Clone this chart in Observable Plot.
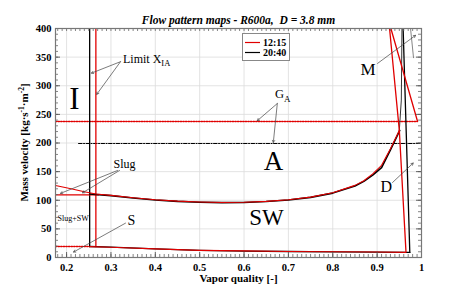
<!DOCTYPE html>
<html><head><meta charset="utf-8">
<script src="https://cdn.jsdelivr.net/npm/d3@7"></script>
<script src="https://cdn.jsdelivr.net/npm/@observablehq/plot@0.6"></script>
<style>
body{margin:0;background:#fff;}
#wrap{position:relative;width:460px;height:302px;}
</style></head><body><div id="wrap"></div>
<script>
const FONT = '"Liberation Serif","DejaVu Serif","Times New Roman",serif';
const series = ["12:15", "20:40"];
const seriesColors = ["#e00000", "#000000"];
const xTicks = [0.2, 0.3, 0.4, 0.5, 0.6, 0.7, 0.8, 0.9, 1];
const yTicks = [0, 50, 100, 150, 200, 250, 300, 350, 400];
const xDomain = [0.175, 1];
const yDomain = [0, 400];
const xMinor = d3.range(18, 101).map(d => d / 100);
const yMinor = d3.range(0, 401, 10);

// Slug / SW-A transition curve
const boundX_1215 = [0.175, 0.21, 0.24, 0.266, 0.3, 0.35, 0.4, 0.45, 0.5, 0.55, 0.6, 0.65, 0.7, 0.75, 0.8, 0.85, 0.87, 0.89, 0.91, 0.93, 0.95];
const boundG_1215 = [125.8, 120, 115, 111, 108.5, 104.5, 101, 98.5, 97, 96, 96.5, 98, 101, 105.5, 113, 126, 134, 146, 161, 190, 222];
const boundX_2040 = [0.252, 0.3, 0.35, 0.4, 0.45, 0.5, 0.55, 0.6, 0.65, 0.7, 0.75, 0.8, 0.85, 0.87, 0.89, 0.91, 0.93, 0.951];
const boundG_2040 = [111, 108, 104, 100.5, 98, 96.5, 95.8, 96.2, 97.8, 100.5, 105, 112.5, 125, 133, 144, 157, 188, 222];
// horizontal slug boundary
const slugX_1215 = [0.175, 0.272];
const slugG_1215 = [109.5, 109.5];
// Limit X_IA (vertical)
const limitX = [0.266, 0.252];
const limitG = [19, 400];
// Stratified boundary S
const sExtX = [0.175, 0.252];
const sExtG = [19.3, 19.3];
const sX_1215 = [0.252, 0.3, 0.4, 0.5, 0.6, 0.7, 0.8, 0.9, 0.965];
const sG_1215 = [19, 18, 15, 12.5, 11.5, 10.5, 10, 9.5, 9];
const sX_2040 = [0.252, 0.3, 0.4, 0.5, 0.6, 0.7, 0.8, 0.9, 0.974];
const sG_2040 = [19.2, 18.2, 15, 12.5, 11.3, 10.5, 10, 9.5, 9];
// G_A lines
const gaX_1215 = [0.175, 0.991];
const gaG_1215 = [237.5, 237.5];
const gaX_2040 = [0.227, 1];
const gaG_2040 = [199, 199];
// Mist / Dryout lines
const mdX_1215 = [0.928, 0.95, 0.965];
const mdG_1215 = [400, 222, 10];
const m2X_1215 = [0.931, 0.991];
const m2G_1215 = [400, 238];
const dX_2040 = [0.9586, 0.9736];
const dG_2040 = [400, 9];
const mX_2040 = [0.950, 0.9545, 0.956];
const mG_2040 = [222, 275, 400];
const greyX = [0.9753, 0.982];
const greyG = [400, 349];

// annotation texts & arrows (data units)
const labels = [
  {x: 0.2178, g: 260, text: "I", size: 31, anchor: "middle"},
  {x: 0.6664, g: 152, text: "A", size: 27, anchor: "middle"},
  {x: 0.6507, g: 56, text: "SW", size: 23, anchor: "middle"},
  {x: 0.8625, g: 318, text: "M", size: 17, anchor: "start"},
  {x: 0.9076, g: 115, text: "D", size: 16, anchor: "start"},
  {x: 0.3373, g: 56, text: "S", size: 14, anchor: "start"},
  {x: 0.3057, g: 157, text: "Slug", size: 12, anchor: "start"},
  {x: 0.1795, g: 63, text: "Slug+SW", size: 8, anchor: "start"}
];
const arrows = [
  {x1: 0.3215, y1: 342, x2: 0.256, y2: 322},
  {x1: 0.3215, y1: 342, x2: 0.268, y2: 285},
  {x1: 0.675, y1: 269, x2: 0.630, y2: 239},
  {x1: 0.675, y1: 269, x2: 0.666, y2: 201},
  {x1: 0.901, y1: 339, x2: 0.9866, y2: 388},
  {x1: 0.9347, y1: 131, x2: 0.9813, y2: 165},
  {x1: 0.3148, y1: 152, x2: 0.1863, y2: 112},
  {x1: 0.3193, y1: 152, x2: 0.2359, y2: 113},
  {x1: 0.3328, y1: 60, x2: 0.2156, y2: 9.5}
];

const W = 460, H = 302, ML = 55, MR = 39, MT = 28, MB = 45;
const pxX = (xDomain[1] - xDomain[0]) / (W - ML - MR);
const pxY = (yDomain[1] - yDomain[0]) / (H - MT - MB);
const pts = (xs, gs) => xs.map((x, i) => ({x, g: gs[i]}));
const red = seriesColors[0], blk = seriesColors[1];

const lineOpt = (c, extra = {}) => ({x: "x", y: "g", stroke: c, strokeWidth: 1.3, clip: true, ...extra});
const dotted = {strokeWidth: 1.4, strokeDasharray: "1.3,1.3"};

const plot = Plot.plot({
  width: W, height: H,
  marginLeft: ML, marginRight: MR, marginTop: MT, marginBottom: MB,
  style: {fontFamily: FONT, fontSize: "10.5px", background: "white", color: "black"},
  x: {domain: xDomain},
  y: {domain: yDomain},
  marks: [
    Plot.ruleX(xTicks, {stroke: "#dcdcdc", strokeWidth: 0.8}),
    Plot.ruleY(yTicks, {stroke: "#dcdcdc", strokeWidth: 0.8}),
    // G_A lines
    Plot.line(pts(gaX_1215, gaG_1215), lineOpt(red, dotted)),
    Plot.line(pts(gaX_2040, gaG_2040), lineOpt(blk, {strokeWidth: 1.1, strokeDasharray: "3.5,1.5,1,1.5"})),
    // S extension (dotted)
    Plot.line(pts(sExtX, sExtG), lineOpt(red, dotted)),
    // limit X_IA
    Plot.line(pts([limitX[0], limitX[0]], limitG), lineOpt(red)),
    Plot.line(pts([limitX[1], limitX[1]], limitG), lineOpt(blk)),
    // slug horizontal
    Plot.line(pts(slugX_1215, slugG_1215), lineOpt(red)),
    // S curves
    Plot.line(pts(sX_2040, sG_2040), lineOpt(blk)),
    Plot.line(pts(sX_1215, sG_1215), lineOpt(red, {strokeWidth: 1.1})),
    // transition curves
    Plot.line(pts(boundX_2040, boundG_2040), lineOpt(blk, {strokeWidth: 1.6})),
    Plot.line(pts(boundX_1215, boundG_1215), lineOpt(red, {strokeWidth: 1.1})),
    // M / D
    Plot.line(pts(dX_2040, dG_2040), lineOpt(blk)),
    Plot.line(pts(mX_2040, mG_2040), lineOpt("#333", {strokeWidth: 1})),
    Plot.line(pts(mdX_1215, mdG_1215), lineOpt(red)),
    Plot.line(pts(m2X_1215, m2G_1215), lineOpt(red)),
    Plot.line(pts(greyX, greyG), lineOpt("#777", {strokeWidth: 0.9})),
    // arrows
    Plot.arrow(arrows, {x1: "x1", y1: "y1", x2: "x2", y2: "y2", stroke: "#444", strokeWidth: 0.7, headLength: 5, bend: 0}),
    // labels
    ...labels.map(l => Plot.text([l], {x: "x", y: "g", text: "text", fontSize: l.size, textAnchor: l.anchor, lineAnchor: "bottom", fill: "black", fontFamily: FONT})),
    // ticks (inside)
    Plot.ruleX(xMinor, {x: d => d, y1: 0, y2: 3 * pxY, stroke: "#666", strokeWidth: 0.8}),
    Plot.ruleX(xMinor, {x: d => d, y1: 400 - 3 * pxY, y2: 400, stroke: "#666", strokeWidth: 0.8}),
    Plot.ruleY(yMinor, {y: d => d, x1: xDomain[0], x2: xDomain[0] + 3 * pxX, stroke: "#666", strokeWidth: 0.8}),
    Plot.ruleY(yMinor, {y: d => d, x1: xDomain[1] - 3 * pxX, x2: xDomain[1], stroke: "#666", strokeWidth: 0.8}),
    Plot.ruleX(xTicks, {x: d => d, y1: 0, y2: 5 * pxY, stroke: "#555", strokeWidth: 0.9}),
    Plot.ruleY(yTicks, {y: d => d, x1: xDomain[0], x2: xDomain[0] + 5 * pxX, stroke: "#555", strokeWidth: 0.9}),
    Plot.ruleY(yTicks, {y: d => d, x1: xDomain[1] - 5 * pxX, x2: xDomain[1], stroke: "#555", strokeWidth: 0.9}),
    Plot.frame({stroke: "#777", strokeWidth: 1.2}),
    Plot.axisX({ticks: xTicks, tickSize: 0, tickPadding: 6, tickFormat: d => d === 1 ? "1" : d.toFixed(1), fontWeight: "bold", fontSize: 10.5, label: null}),
    Plot.axisY({ticks: yTicks, tickSize: 0, tickPadding: 4, fontWeight: "bold", fontSize: 10.5, label: null}),
    // title and x label
    Plot.text(["Flow pattern maps - R600a,  D = 3.8 mm"], {frameAnchor: "top", dy: -5, lineAnchor: "bottom", fontSize: 11.5, fontWeight: "bold", fontStyle: "italic", fontFamily: FONT, fill: "black"}),
    Plot.text(["Vapor quality [-]"], {frameAnchor: "bottom", dy: 24, lineAnchor: "bottom", fontSize: 11, fontWeight: "bold", fontFamily: FONT, fill: "black"})
  ]
});

document.getElementById("wrap").appendChild(plot);
const svg = d3.select(plot);
const sx = plot.scale("x"), sy = plot.scale("y");

// y label with superscripts
const yl = svg.append("text").attr("transform", `translate(28,${(MT + H - MB) / 2}) rotate(-90)`)
  .attr("text-anchor", "middle").attr("font-family", FONT).attr("font-weight", "bold").attr("font-size", 11).attr("fill", "black");
yl.append("tspan").text("Mass velocity [kg·s");
yl.append("tspan").attr("dy", -4).attr("font-size", 7.5).text("-1");
yl.append("tspan").attr("dy", 4).text("·m");
yl.append("tspan").attr("dy", -4).attr("font-size", 7.5).text("-2");
yl.append("tspan").attr("dy", 4).text("]");

// Limit X_IA
const lt = svg.append("text").attr("x", sx.apply(0.3283)).attr("y", sy.apply(339)).attr("text-anchor", "start")
  .attr("font-family", FONT).attr("font-size", 12).attr("fill", "black");
lt.append("tspan").text("Limit X");
lt.append("tspan").attr("dy", 3.5).attr("font-size", 8.5).text("IA");

// G_A
const ga = svg.append("text").attr("x", sx.apply(0.671)).attr("y", sy.apply(277.7)).attr("text-anchor", "start")
  .attr("font-family", FONT).attr("font-size", 12.5).attr("fill", "black");
ga.append("tspan").text("G");
ga.append("tspan").attr("dy", 3.5).attr("font-size", 9).text("A");

// legend
const lg = svg.append("g").attr("font-family", FONT).attr("font-weight", "bold").attr("font-size", 10).attr("text-anchor", "start");
lg.append("rect").attr("x", 242.5).attr("y", 33.5).attr("width", 47).attr("height", 27).attr("fill", "white").attr("stroke", "#888");
series.forEach((s, i) => {
  const y = 42.5 + i * 10;
  lg.append("line").attr("x1", 245).attr("x2", 260).attr("y1", y).attr("y2", y).attr("stroke", seriesColors[i]).attr("stroke-width", 1.2);
  lg.append("text").attr("x", 263).attr("y", y + 3.5).attr("fill", "black").text(s);
});
</script></body></html>
